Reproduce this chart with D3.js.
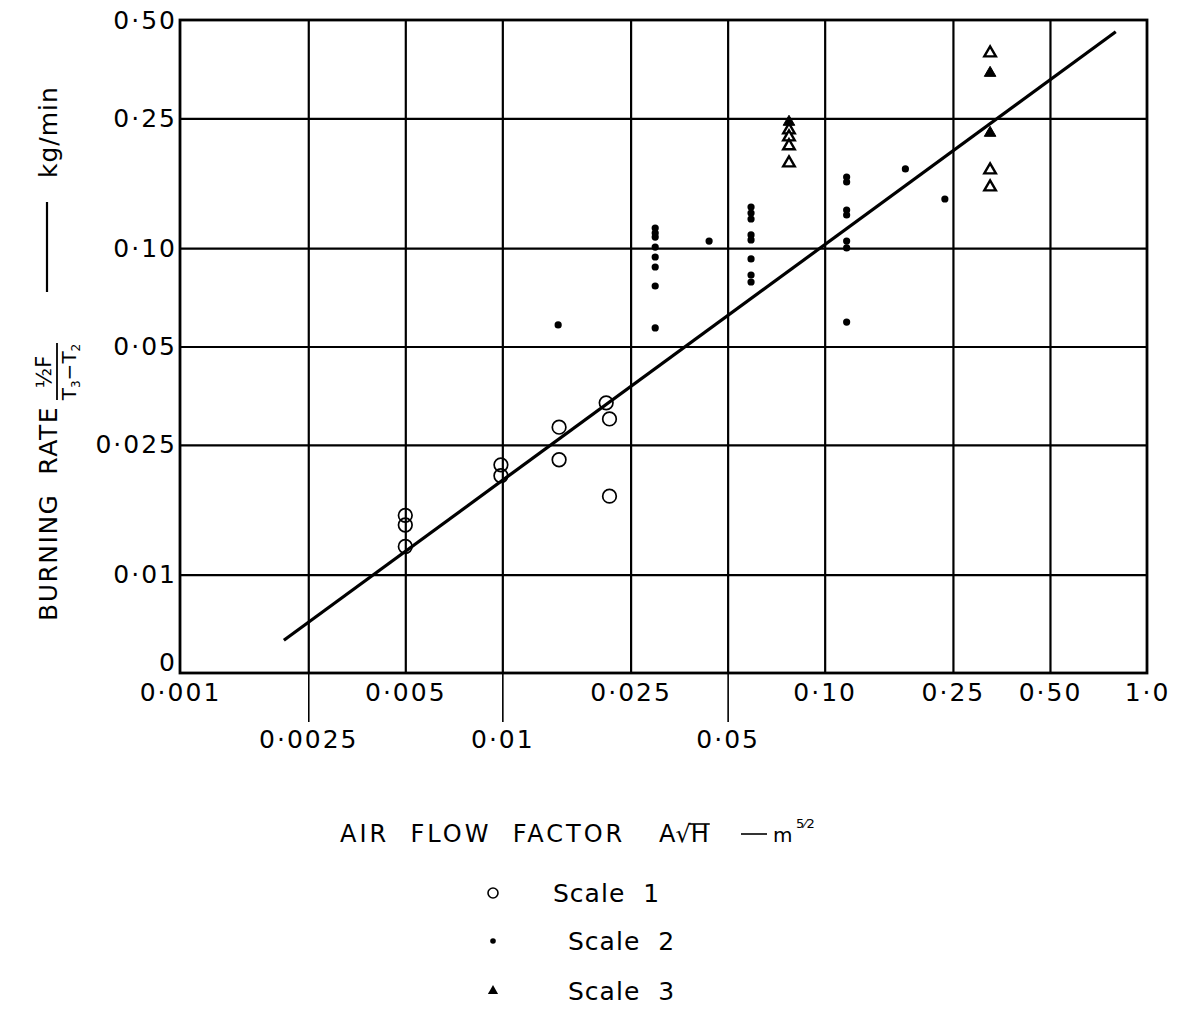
<!DOCTYPE html>
<html>
<head>
<meta charset="utf-8">
<title>Burning rate against air flow factor</title>
<script src="https://cdn.jsdelivr.net/npm/d3@7/dist/d3.min.js"></script>
<style>
body{margin:0;background:#fff;}
svg{display:block;font-family:"DejaVu Sans",sans-serif;}
</style>
</head>
<body>
<svg id="chart" width="1186" height="1009"></svg>
<script>
// tick values and labels (log-log sheet)
var xTickTop = [0.001, 0.005, 0.025, 0.10, 0.25, 0.50, 1.0];
var xTickTopLabels = ["0·001", "0·005", "0·025", "0·10", "0·25", "0·50", "1·0"];
var xTickLow = [0.0025, 0.01, 0.05];
var xTickLowLabels = ["0·0025", "0·01", "0·05"];
var xGrid = [0.0025, 0.005, 0.01, 0.025, 0.05, 0.10, 0.25, 0.50];
var yTicks = [0.50, 0.25, 0.10, 0.05, 0.025, 0.01, 0.005];
var yTickLabels = ["0·50", "0·25", "0·10", "0·05", "0·025", "0·01", "0"];
var yGrid = [0.25, 0.10, 0.05, 0.025, 0.01];

// Scale 1 - open circles
var scale1X = [0.005, 0.005, 0.005, 0.0099, 0.0099, 0.015, 0.015, 0.021, 0.0215, 0.0215];
var scale1Y = [0.0152, 0.0142, 0.0122, 0.0217, 0.0201, 0.0283, 0.0225, 0.0336, 0.0300, 0.0174];

// Scale 2 - dots
var scale2X = [0.0149,
  0.0298, 0.0298, 0.0298, 0.0298, 0.0298, 0.0298, 0.0298, 0.0298,
  0.0438,
  0.0591, 0.0591, 0.0591, 0.0591, 0.0591, 0.0591, 0.0591, 0.0591,
  0.117, 0.117, 0.117, 0.117, 0.117, 0.117, 0.117,
  0.178, 0.236];
var scale2Y = [0.0582,
  0.1153, 0.1113, 0.1082, 0.1008, 0.0940, 0.0876, 0.0766, 0.0570,
  0.1052,
  0.1337, 0.1282, 0.1229, 0.1098, 0.1060, 0.0927, 0.0828, 0.0788,
  0.1652, 0.1595, 0.1309, 0.1264, 0.1052, 0.1002, 0.0594,
  0.1749, 0.1415];

// Scale 3 - triangles (some drawn solid, some hollow)
var scale3SolidX = [0.0775, 0.326, 0.326];
var scale3SolidY = [0.2436, 0.344, 0.2254];
var scale3HollowX = [0.0775, 0.0775, 0.0775, 0.0775, 0.326, 0.326, 0.326];
var scale3HollowY = [0.2302, 0.2191, 0.2057, 0.1824, 0.396, 0.1736, 0.1540];

// fitted line
var fitX = [0.0021, 0.80];
var fitY = [0.0063, 0.46];

var svg = d3.select("#chart");
var x = d3.scaleLog().domain([0.001, 1]).range([180, 1147]);
var y = d3.scaleLog().domain([0.005, 0.5]).range([673, 20]);
var pw = x.range()[1] - x.range()[0];
var ph = y.range()[0] - y.range()[1];

function pts(xs, ys){
  return xs.map(function(d, i){ return {x: d, y: ys[i]}; });
}

// grid
var gx = svg.append("g").attr("transform", "translate(0," + y.range()[0] + ")")
  .call(d3.axisBottom(x).tickValues(xGrid).tickSize(-ph).tickFormat(""));
gx.select(".domain").remove();
gx.selectAll(".tick line").attr("stroke", "#000").attr("stroke-width", 2.2);

var gy = svg.append("g").attr("transform", "translate(" + x.range()[0] + ",0)")
  .call(d3.axisLeft(y).tickValues(yGrid).tickSize(-pw).tickFormat(""));
gy.select(".domain").remove();
gy.selectAll(".tick line").attr("stroke", "#000").attr("stroke-width", 2.2);

svg.append("rect")
  .attr("x", x.range()[0]).attr("y", y.range()[1])
  .attr("width", pw).attr("height", ph)
  .attr("fill", "none").attr("stroke", "#000").attr("stroke-width", 2.8);

// axis labels
var ax1 = svg.append("g").attr("transform", "translate(0," + y.range()[0] + ")")
  .call(d3.axisBottom(x).tickValues(xTickTop).tickSize(0).tickPadding(10)
    .tickFormat(function(d, i){ return xTickTopLabels[i]; }));
var ax2 = svg.append("g").attr("transform", "translate(0," + y.range()[0] + ")")
  .call(d3.axisBottom(x).tickValues(xTickLow).tickSize(49).tickPadding(8)
    .tickFormat(function(d, i){ return xTickLowLabels[i]; }));
var ay = svg.append("g").attr("transform", "translate(" + (x.range()[0] - 1) + ",0)")
  .call(d3.axisLeft(y).tickValues(yTicks).tickSize(0).tickPadding(2)
    .tickFormat(function(d, i){ return yTickLabels[i]; }));
[ax1, ax2, ay].forEach(function(a){
  a.select(".domain").remove();
  a.attr("font-family", "DejaVu Sans").attr("font-size", 25);
  a.selectAll("text").attr("fill", "#000").attr("letter-spacing", 2);
  a.selectAll(".tick line").attr("stroke", "#000").attr("stroke-width", 1.6);
});
// bottom "0" sits just above the corner, clear of 0·001
ay.selectAll(".tick text").filter(function(d){ return d === 0.005; }).attr("dy", "-0.12em");

// fitted line
var line = d3.line().x(function(d){ return x(d.x); }).y(function(d){ return y(d.y); });
svg.append("path").datum(pts(fitX, fitY))
  .attr("d", line).attr("fill", "none").attr("stroke", "#000").attr("stroke-width", 3.2);

// points
svg.append("g").selectAll("circle").data(pts(scale1X, scale1Y)).enter().append("circle")
  .attr("cx", function(d){ return x(d.x); }).attr("cy", function(d){ return y(d.y); })
  .attr("r", 6.8).attr("fill", "none").attr("stroke", "#000").attr("stroke-width", 1.7);

svg.append("g").selectAll("circle").data(pts(scale2X, scale2Y)).enter().append("circle")
  .attr("cx", function(d){ return x(d.x); }).attr("cy", function(d){ return y(d.y); })
  .attr("r", 3.6).attr("fill", "#000");

var tri = d3.symbol().type(d3.symbolTriangle).size(58);
svg.append("g").selectAll("path").data(pts(scale3SolidX, scale3SolidY)).enter().append("path")
  .attr("d", tri).attr("transform", function(d){ return "translate(" + x(d.x) + "," + y(d.y) + ")"; })
  .attr("fill", "#000").attr("stroke", "#000").attr("stroke-width", 1);
svg.append("g").selectAll("path").data(pts(scale3HollowX, scale3HollowY)).enter().append("path")
  .attr("d", tri).attr("transform", function(d){ return "translate(" + x(d.x) + "," + y(d.y) + ")"; })
  .attr("fill", "#fff").attr("stroke", "#000").attr("stroke-width", 2.4);

// x title
var xt = svg.append("g").attr("font-size", 24).attr("fill", "#000");
xt.append("text").attr("x", 340).attr("y", 842).attr("letter-spacing", 3)
  .attr("xml:space", "preserve").text("AIR  FLOW  FACTOR");
var rad = xt.append("text").attr("x", 659).attr("y", 842).text("A√H");
var ext = rad.node().getExtentOfChar(2);
xt.append("line").attr("x1", ext.x - 2).attr("x2", ext.x + ext.width + 1)
  .attr("y1", ext.y + 4).attr("y2", ext.y + 4).attr("stroke", "#000").attr("stroke-width", 1.6);
xt.append("line").attr("x1", 741).attr("x2", 767).attr("y1", 834).attr("y2", 834)
  .attr("stroke", "#000").attr("stroke-width", 1.6);
xt.append("text").attr("x", 773).attr("y", 842).attr("font-size", 20).text("m");
xt.append("text").attr("x", 796).attr("y", 828).attr("font-size", 13).text("5⁄2");

// y title, rotated
var yt = svg.append("g").attr("transform", "translate(57,0) rotate(-90)").attr("fill", "#000");
yt.append("text").attr("x", -621).attr("y", 0).attr("font-size", 25).attr("letter-spacing", 1.5)
  .attr("xml:space", "preserve").text("BURNING  RATE");
yt.append("text").attr("x", -372).attr("y", -6).attr("text-anchor", "middle").attr("font-size", 21).text("½F");
yt.append("line").attr("x1", -400).attr("x2", -343).attr("y1", 0).attr("y2", 0)
  .attr("stroke", "#000").attr("stroke-width", 1.8);
var den = yt.append("text").attr("x", -372).attr("y", 19).attr("text-anchor", "middle").attr("font-size", 20);
den.append("tspan").text("T");
den.append("tspan").attr("font-size", 12).attr("dy", 4).text("3");
den.append("tspan").attr("dy", -4).text("−T");
den.append("tspan").attr("font-size", 12).attr("dy", 4).text("2");
yt.append("line").attr("x1", -292).attr("x2", -202).attr("y1", -10).attr("y2", -10)
  .attr("stroke", "#000").attr("stroke-width", 2.2);
yt.append("text").attr("x", -178).attr("y", 0).attr("font-size", 25).attr("letter-spacing", 1).text("kg/min");

// legend
var legY = [893, 941, 991];
var legLabels = ["Scale  1", "Scale  2", "Scale  3"];
var lg = svg.append("g");
lg.append("circle").attr("cx", 493).attr("cy", legY[0]).attr("r", 5)
  .attr("fill", "none").attr("stroke", "#000").attr("stroke-width", 1.6);
lg.append("circle").attr("cx", 493).attr("cy", legY[1]).attr("r", 2.8).attr("fill", "#000");
lg.append("path").attr("d", d3.symbol().type(d3.symbolTriangle).size(45))
  .attr("transform", "translate(493," + legY[2] + ")").attr("fill", "#000");
lg.selectAll("text").data(legLabels).enter().append("text")
  .attr("x", function(d, i){ return i === 0 ? 553 : 568; })
  .attr("y", function(d, i){ return legY[i] + 9; })
  .attr("font-size", 25).attr("letter-spacing", 1).attr("xml:space", "preserve")
  .text(function(d){ return d; });
</script>
</body>
</html>
